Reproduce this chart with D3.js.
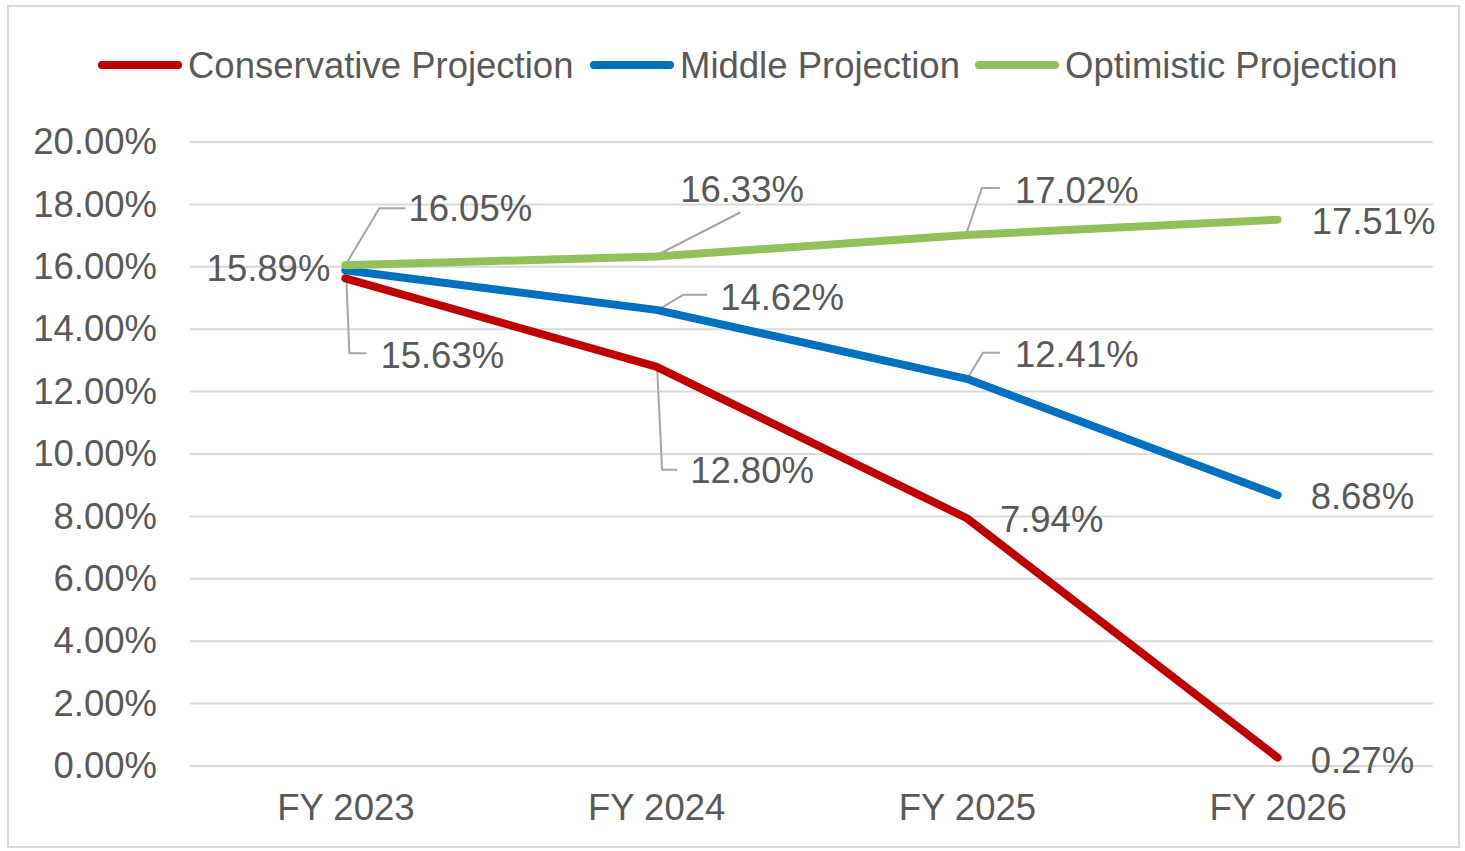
<!DOCTYPE html>
<html>
<head>
<meta charset="utf-8">
<script src="https://cdn.jsdelivr.net/npm/d3@7"></script>
<style>
  body { margin: 0; background: #fff; }
  svg { display: block; font-family: "Liberation Sans", Arial, sans-serif; }
</style>
</head>
<body>
<svg id="chart" width="1465" height="851"></svg>
<script>
// Data
const categories = ["FY 2023", "FY 2024", "FY 2025", "FY 2026"];
const seriesNames = ["Conservative Projection", "Middle Projection", "Optimistic Projection"];
const conservative = [15.63, 12.80, 7.94, 0.27];
const middle = [15.89, 14.62, 12.41, 8.68];
const optimistic = [16.05, 16.33, 17.02, 17.51];
const yTicks = [0, 2, 4, 6, 8, 10, 12, 14, 16, 18, 20];

const colors = ["#c00000", "#0070c0", "#92c05a"];

// label placement (offsets from point, leader polyline offsets)
const labelLayout = [
    [ {dx: 35, dy: 77, leader: [[1, 0], [4, 75], [21, 75]]},
      {dx: 34, dy: 103, leader: [[1, 1], [6, 103], [21, 103]]},
      {dx: 33, dy: 1},
      {dx: 33, dy: 2} ],
    [ {dx: -15, dy: -2, anchor: "end"},
      {dx: 64, dy: -13, leader: [[2, 0], [27, -15], [51, -15]]},
      {dx: 48, dy: -25, leader: [[1, -1], [16, -26], [33, -26]]},
      {dx: 33, dy: 1} ],
    [ {dx: 63, dy: -57, leader: [[0, 0], [34, -57], [60, -57]]},
      {dx: 24, dy: -68, leader: [[2, -2], [84, -44]]},
      {dx: 48, dy: -45, leader: [[0, -3], [15, -47], [33, -47]]},
      {dx: 34, dy: 1} ]
];

const svg = d3.select("#chart");
const textColor = "#595959";
const fontSize = 36.5;

// outer border
svg.append("rect")
    .attr("x", 8).attr("y", 6)
    .attr("width", 1451).attr("height", 841)
    .attr("fill", "#fff")
    .attr("stroke", "#d9d9d9")
    .attr("stroke-width", 2);

let margin = {top: 142, left: 190, right: 32, bottom: 85};
let width = 1465 - margin.left - margin.right,
    height = 851 - margin.top - margin.bottom;

let g = svg.append("g")
    .attr("transform", "translate(" + margin.left + "," + margin.top + ")");

let xScale = d3.scalePoint()
    .domain(categories)
    .range([0, width])
    .padding(0.5);

let yScale = d3.scaleLinear()
    .domain([0, 20])
    .range([624, 0]);

// gridlines
g.selectAll(".grid")
    .data(yTicks)
    .enter().append("line")
    .attr("class", "grid")
    .attr("x1", 0).attr("x2", width)
    .attr("y1", d => yScale(d)).attr("y2", d => yScale(d))
    .attr("stroke", "#d9d9d9")
    .attr("stroke-width", 2);

// y axis
let yAxis = g.append("g")
    .call(d3.axisLeft(yScale).tickValues(yTicks).tickSize(0).tickPadding(33)
        .tickFormat(d => d.toFixed(2) + "%"));
yAxis.select(".domain").remove();
yAxis.selectAll("text")
    .attr("fill", textColor)
    .style("font-size", fontSize + "px")
    .style("font-family", "Liberation Sans, Arial, sans-serif");

// x axis
let xAxis = g.append("g")
    .attr("transform", "translate(0," + yScale(0) + ")")
    .call(d3.axisBottom(xScale).tickSize(0).tickPadding(28));
xAxis.select(".domain").remove();
xAxis.selectAll("text")
    .attr("fill", textColor)
    .style("font-size", fontSize + "px")
    .style("font-family", "Liberation Sans, Arial, sans-serif");

const allSeries = [conservative, middle, optimistic];

let lineGraph = d3.line()
    .x((d, i) => xScale(categories[i]))
    .y(d => yScale(d));

// leader lines
allSeries.forEach((values, s) => {
    values.forEach((v, i) => {
        let lay = labelLayout[s][i];
        if (!lay.leader) return;
        let px = xScale(categories[i]), py = yScale(v);
        g.append("polyline")
            .attr("points", lay.leader.map(p => (px + p[0]) + "," + (py + p[1])).join(" "))
            .attr("fill", "none")
            .attr("stroke", "#a6a6a6")
            .attr("stroke-width", 2);
    });
});

// lines
g.selectAll(".line")
    .data(allSeries)
    .enter().append("path")
    .attr("class", "line")
    .attr("d", lineGraph)
    .attr("fill", "none")
    .attr("stroke", (d, i) => colors[i])
    .attr("stroke-width", 8)
    .attr("stroke-linecap", "round")
    .attr("stroke-linejoin", "round");

// data labels
allSeries.forEach((values, s) => {
    values.forEach((v, i) => {
        let lay = labelLayout[s][i];
        g.append("text")
            .attr("x", xScale(categories[i]) + lay.dx)
            .attr("y", yScale(v) + lay.dy)
            .attr("dy", "0.36em")
            .attr("text-anchor", lay.anchor || "start")
            .attr("fill", textColor)
            .style("font-size", fontSize + "px")
            .text(v.toFixed(2) + "%");
    });
});

// legend
const legendX = [98, 590, 975];
let legend = svg.append("g");
seriesNames.forEach((name, i) => {
    legend.append("line")
        .attr("x1", legendX[i] + 4).attr("x2", legendX[i] + 80)
        .attr("y1", 65).attr("y2", 65)
        .attr("stroke", colors[i])
        .attr("stroke-width", 8)
        .attr("stroke-linecap", "round");
    legend.append("text")
        .attr("x", legendX[i] + 90)
        .attr("y", 65)
        .attr("dy", "0.36em")
        .attr("fill", textColor)
        .style("font-size", fontSize + "px")
        .text(name);
});
</script>
</body>
</html>
